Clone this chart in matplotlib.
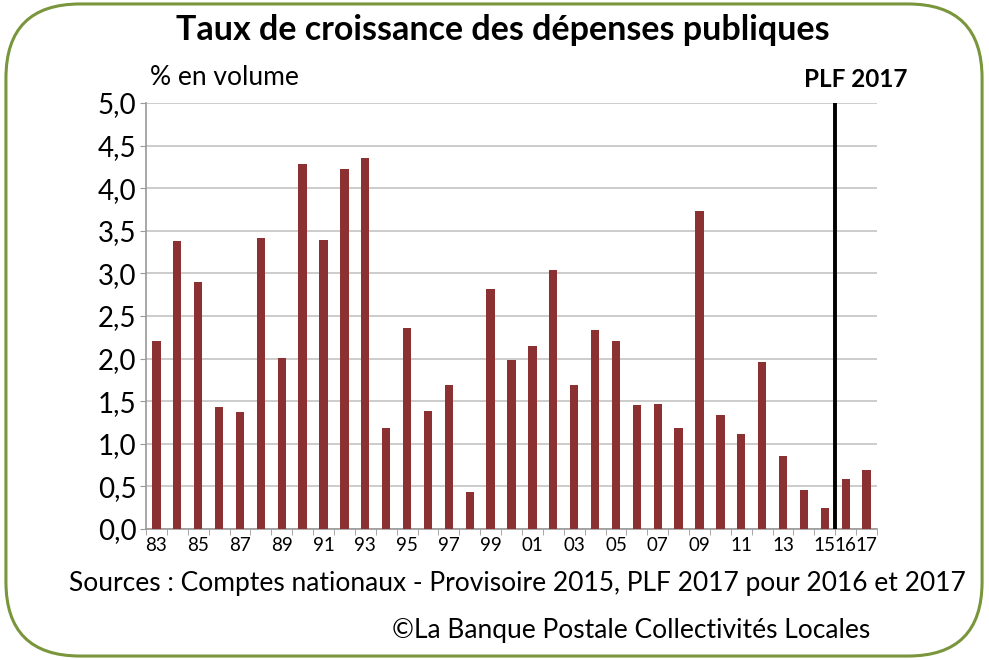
import matplotlib
matplotlib.use("Agg")
import matplotlib.pyplot as plt
from matplotlib.patches import FancyBboxPatch
import numpy as np

# annees (2 chiffres) et taux de croissance en volume (%)
years = ["83", "84", "85", "86", "87", "88", "89", "90", "91", "92", "93", "94",
         "95", "96", "97", "98", "99", "00", "01", "02", "03", "04", "05", "06",
         "07", "08", "09", "10", "11", "12", "13", "14", "15", "16", "17"]
values = [2.21, 3.38, 2.90, 1.43, 1.37, 3.41, 2.01, 4.28, 3.39, 4.22, 4.35, 1.18,
          2.36, 1.38, 1.69, 0.44, 2.82, 1.98, 2.15, 3.04, 1.69, 2.33, 2.21, 1.46,
          1.47, 1.18, 3.73, 1.34, 1.12, 1.96, 0.86, 0.46, 0.25, 0.59, 0.69]
shown_labels = ["83", "85", "87", "89", "91", "93", "95", "97", "99", "01", "03",
                "05", "07", "09", "11", "13", "15", "16", "17"]
y_ticks = [0.0, 0.5, 1.0, 1.5, 2.0, 2.5, 3.0, 3.5, 4.0, 4.5, 5.0]
plf_split = "15"   # derniere annee avant le PLF

FONT = "Lato"
BAR_COLOR = "#8B3132"
GREEN = "#7A963C"

fig = plt.figure(figsize=(9.89, 6.6), dpi=100)

# cadre arrondi
frame = FancyBboxPatch((0.006, 0.006), 0.987, 0.988,
                       boxstyle="round,pad=0,rounding_size=0.075",
                       transform=fig.transFigure, fill=False,
                       edgecolor=GREEN, linewidth=2.2, mutation_aspect=1.5)
fig.patches.append(frame)

ax = fig.add_axes([0.1476, 0.1985, 0.7392, 0.6454])
x = np.arange(len(years))
ax.bar(x, values, width=0.4, color=BAR_COLOR, zorder=3)

ax.set_xlim(-0.5, len(years) - 0.5)
ax.set_ylim(0, 5.0)
ax.set_yticks(y_ticks)
ax.set_yticklabels([f"{v:.1f}".replace(".", ",") for v in y_ticks],
                   fontsize=20, family=FONT)
ax.yaxis.grid(True, color="#c8c8c8", linewidth=1.3, zorder=0)

pos = [years.index(lbl) for lbl in shown_labels]
ax.set_xticks(pos)
ax.set_xticklabels(shown_labels, fontsize=13.5, family=FONT)
ax.set_xticks(np.arange(len(years) + 1) - 0.5, minor=True)
ax.tick_params(axis="x", which="major", length=0, pad=6)
ax.tick_params(axis="x", which="minor", length=4, color="#999999")
ax.tick_params(axis="y", length=4, color="#999999", pad=3)

for side in ["top", "right"]:
    ax.spines[side].set_visible(False)
ax.spines["left"].set_color("#999999")
ax.spines["bottom"].set_color("#999999")
ax.spines["left"].set_linewidth(1.2)
ax.spines["bottom"].set_linewidth(1.2)

# separation PLF
ax.axvline(years.index(plf_split) + 0.5, color="black", linewidth=2.8, zorder=4)

fig.text(0.508, 0.955, "Taux de croissance des dépenses publiques", ha="center",
         va="center", fontsize=24.5, fontweight="bold", family=FONT)
fig.text(0.152, 0.882, "% en volume", ha="left", va="center", fontsize=19,
         family=FONT)
fig.text(0.918, 0.879, "PLF 2017", ha="right", va="center", fontsize=17.5,
         fontweight="bold", family=FONT)
fig.text(0.523, 0.116, "Sources : Comptes nationaux - Provisoire 2015, PLF 2017 pour 2016 et 2017",
         ha="center", va="center", fontsize=19, family=FONT)
fig.text(0.88, 0.045, "©La Banque Postale Collectivités Locales", ha="right",
         va="center", fontsize=19, family=FONT)

fig.savefig("out.png", dpi=100)
